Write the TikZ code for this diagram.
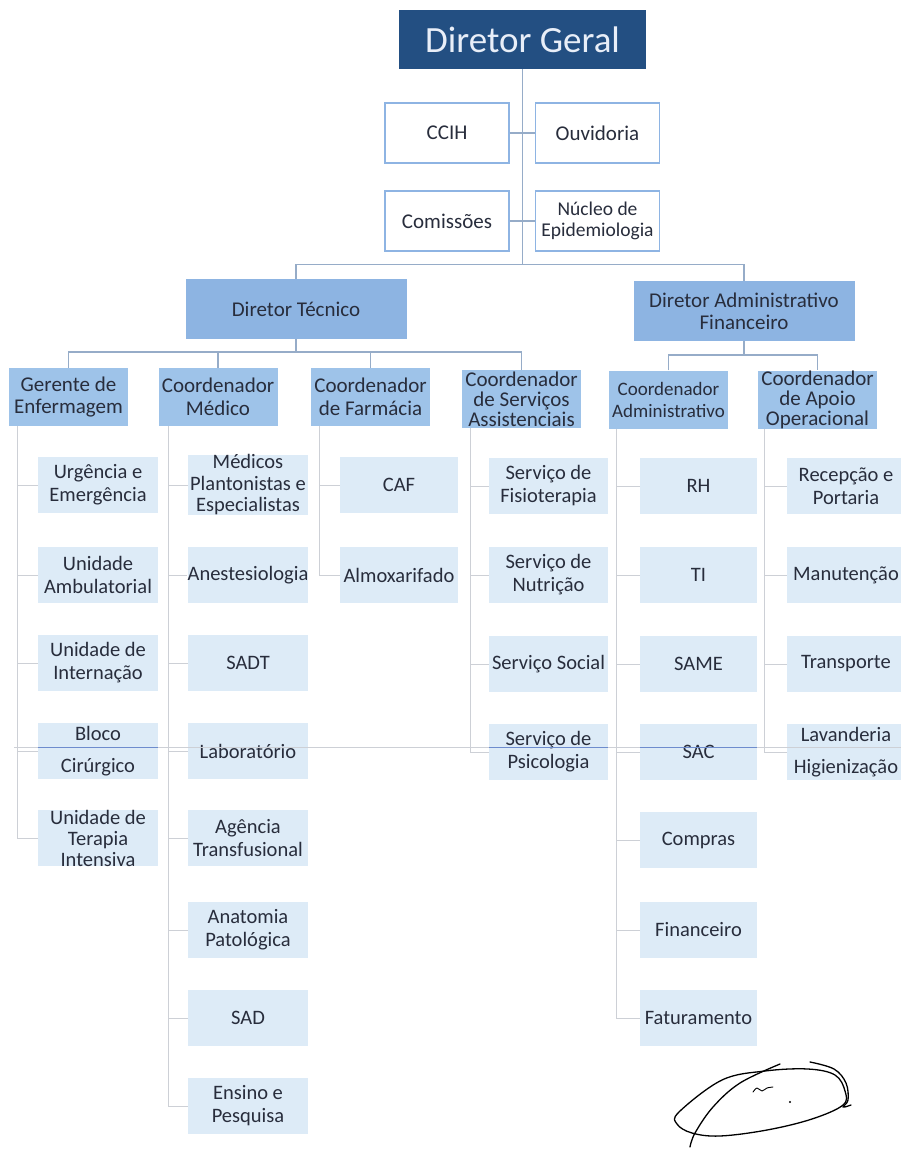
\documentclass[tikz,border=0pt]{standalone}
\usepackage{fontspec}
\setmainfont{Carlito}

\begin{document}
\begin{tikzpicture}[x=1pt, y=-1pt,
  base/.style={inner sep=0pt, align=center, text=txtgray},
  geralbox/.style={base, fill=geralblue, text=geraltext, minimum width=247pt,
    minimum height=59pt, font=\fontsize{37}{40}\selectfont},
  staffbox/.style={base, fill=white, draw=staffborder, line width=1.6pt,
    minimum width=124pt, minimum height=60pt, font=\fontsize{21}{22}\selectfont},
  dirbox/.style={base, fill=dirfill, minimum width=221pt, minimum height=60pt,
    font=\fontsize{21}{22}\selectfont},
  coordbox/.style={base, fill=coordfill, minimum width=119pt, minimum height=58pt,
    font=\fontsize{21}{22.5}\selectfont},
  unitbox/.style={base, fill=unitfill, minimum width=120pt, minimum height=56pt,
    font=\fontsize{20.5}{23}\selectfont},
  topline/.style={draw=toplinecol, line width=1.3pt},
  subline/.style={draw=sublinecol, line width=1pt},
  sign/.style={draw=black, line width=1.3pt, line cap=round, line join=round}]
\definecolor{geralblue}{RGB}{35,79,130}
\definecolor{geraltext}{RGB}{232,238,248}
\definecolor{dirfill}{RGB}{141,180,226}
\definecolor{coordfill}{RGB}{158,195,233}
\definecolor{unitfill}{RGB}{221,235,247}
\definecolor{staffborder}{RGB}{142,180,227}
\definecolor{txtgray}{RGB}{40,45,60}
\definecolor{toplinecol}{RGB}{150,172,200}
\definecolor{sublinecol}{RGB}{205,208,214}
\definecolor{scanblue}{RGB}{110,140,205}

\fill[white] (0,0) rectangle (901,1149);
\useasboundingbox (0,0) rectangle (901,1149);

\node[geralbox] (geral) at (522.5,39.5) {Diretor Geral};
\node[staffbox] (ccih) at (447,133) {CCIH};
\node[staffbox] (ouvid) at (597.5,133) {Ouvidoria};
\node[staffbox] (comis) at (447,221) {Comissões};
\node[staffbox, font=\fontsize{19.5}{21.5}\selectfont] (nucleo) at (597.5,221)
  {Núcleo de\\Epidemiologia};

\node[dirbox] (dirtec) at (296,309) {Diretor Técnico};
\node[dirbox] (diradm) at (744,311) {Diretor Administrativo\\Financeiro};

\node[coordbox] (ger) at (68.5,397) {Gerente de\\Enfermagem};
\node[coordbox] (cmed) at (218,397) {Coordenador\\Médico};
\node[coordbox] (cfar) at (370.5,397) {Coordenador\\de Farmácia};
\node[coordbox, font=\fontsize{21}{20}\selectfont] (cserv) at (521.5,399)
  {Coordenador\\de Serviços\\Assistenciais};
\node[coordbox, font=\fontsize{19}{22}\selectfont] (cadm) at (668.5,399.5)
  {Coordenador\\Administrativo};
\node[coordbox, font=\fontsize{21}{20}\selectfont] (capo) at (817.5,399.5)
  {Coordenador\\de Apoio\\Operacional};

\node[unitbox] (urg) at (98,485) {Urgência e\\Emergência};
\node[unitbox] (amb) at (98,575) {Unidade\\Ambulatorial};
\node[unitbox] (intern) at (98,663) {Unidade de\\Internação};
\node[unitbox, font=\fontsize{20.5}{32}\selectfont] (bloco) at (98,751) {Bloco\\Cirúrgico};
\node[unitbox, font=\fontsize{20.5}{21}\selectfont] (uti) at (98,838)
  {Unidade de\\Terapia\\Intensiva};

\node[unitbox, font=\fontsize{20.5}{21.5}\selectfont] (medp) at (248,485)
  {Médicos\\Plantonistas e\\Especialistas};
\node[unitbox] (anest) at (248,575) {Anestesiologia};
\node[unitbox] (sadt) at (248,663) {SADT};
\node[unitbox] (lab) at (248,751) {Laboratório};
\node[unitbox] (agenc) at (248,838) {Agência\\Transfusional};
\node[unitbox] (anat) at (248,930) {Anatomia\\Patológica};
\node[unitbox] (sad) at (248,1018) {SAD};
\node[unitbox] (ensino) at (248,1106) {Ensino e\\Pesquisa};

\node[unitbox, minimum width=118pt] (caf) at (399,485) {CAF};
\node[unitbox, minimum width=118pt] (almox) at (399,575) {Almoxarifado};

\node[unitbox, minimum width=119pt] (fisio) at (548.5,486) {Serviço de\\Fisioterapia};
\node[unitbox, minimum width=119pt] (nutri) at (548.5,575) {Serviço de\\Nutrição};
\node[unitbox, minimum width=119pt] (social) at (548.5,664) {Serviço Social};
\node[unitbox, minimum width=119pt] (psico) at (548.5,752) {Serviço de\\Psicologia};

\node[unitbox, minimum width=117pt] (rh) at (698.5,486) {RH};
\node[unitbox, minimum width=117pt] (ti) at (698.5,575) {TI};
\node[unitbox, minimum width=117pt] (same) at (698.5,664) {SAME};
\node[unitbox, minimum width=117pt] (sac) at (698.5,752) {SAC};
\node[unitbox, minimum width=117pt] (compras) at (698.5,840) {Compras};
\node[unitbox, minimum width=117pt] (financ) at (698.5,930) {Financeiro};
\node[unitbox, minimum width=117pt] (fatur) at (698.5,1018) {Faturamento};

\node[unitbox, minimum width=118pt] (recep) at (846,486) {Recepção e\\Portaria};
\node[unitbox, minimum width=118pt] (manut) at (846,575) {Manutenção};
\node[unitbox, minimum width=118pt] (transp) at (846,664) {Transporte};
\node[unitbox, minimum width=118pt, font=\fontsize{20.5}{32}\selectfont] (lav)
  at (846,752) {Lavanderia\\Higienização};

\coordinate (bus1) at (522.5,265);
\coordinate (bus2) at (296,352);
\coordinate (bus3) at (744,355);
\draw[topline] (geral.south) -- (bus1);
\draw[topline] (ccih.east) -- (ouvid.west);
\draw[topline] (comis.east) -- (nucleo.west);
\draw[topline] (dirtec.north) -- ++(0,-14) -| (diradm.north);

\draw[topline] (dirtec.south) -- (bus2);
\draw[topline] (ger.north) |- (bus2) -| (cserv.north);
\draw[topline] (cmed.north) -- (cmed.north |- bus2);
\draw[topline] (cfar.north) -- (cfar.north |- bus2);
\draw[topline] (diradm.south) -- (bus3);
\draw[topline] (cadm.north) |- (bus3) -| (capo.north);

\coordinate (gerl) at ([xshift=9pt]ger.south west);
\coordinate (cmedl) at ([xshift=10pt]cmed.south west);
\coordinate (cfarl) at ([xshift=9pt]cfar.south west);
\coordinate (cservl) at ([xshift=9pt]cserv.south west);
\coordinate (cadml) at ([xshift=8pt]cadm.south west);
\coordinate (capol) at ([xshift=7pt]capo.south west);

\draw[subline] (gerl) |- (uti.west);
\draw[subline] (gerl |- urg) -- (urg.west);
\draw[subline] (gerl |- amb) -- (amb.west);
\draw[subline] (gerl |- intern) -- (intern.west);
\draw[subline] (gerl |- bloco) -- (bloco.west);

\draw[subline] (cmedl) |- (ensino.west);
\draw[subline] (cmedl |- medp) -- (medp.west);
\draw[subline] (cmedl |- anest) -- (anest.west);
\draw[subline] (cmedl |- sadt) -- (sadt.west);
\draw[subline] (cmedl |- lab) -- (lab.west);
\draw[subline] (cmedl |- agenc) -- (agenc.west);
\draw[subline] (cmedl |- anat) -- (anat.west);
\draw[subline] (cmedl |- sad) -- (sad.west);

\draw[subline] (cfarl) |- (almox.west);
\draw[subline] (cfarl |- caf) -- (caf.west);

\draw[subline] (cservl) |- (psico.west);
\draw[subline] (cservl |- fisio) -- (fisio.west);
\draw[subline] (cservl |- nutri) -- (nutri.west);
\draw[subline] (cservl |- social) -- (social.west);

\draw[subline] (cadml) |- (fatur.west);
\draw[subline] (cadml |- rh) -- (rh.west);
\draw[subline] (cadml |- ti) -- (ti.west);
\draw[subline] (cadml |- same) -- (same.west);
\draw[subline] (cadml |- sac) -- (sac.west);
\draw[subline] (cadml |- compras) -- (compras.west);
\draw[subline] (cadml |- financ) -- (financ.west);

\draw[subline] (capol) |- (lav.west);
\draw[subline] (capol |- recep) -- (recep.west);
\draw[subline] (capol |- manut) -- (manut.west);
\draw[subline] (capol |- transp) -- (transp.west);

\draw[subline] (14,747) -- (901,747);
\draw[scanblue, line width=1pt] ([yshift=4pt]bloco.west) -- ([yshift=4pt]bloco.east);
\draw[scanblue, line width=1pt] ([yshift=5pt]psico.west) -- ([yshift=5pt]psico.east);
\draw[scanblue, line width=1pt] ([yshift=5pt]sac.west) -- ([yshift=5pt]sac.east);

\draw[sign] plot[smooth cycle, tension=0.6] coordinates {(679,1112) (722,1080)
  (765,1071) (808,1069) (835,1075) (845,1091) (843,1105) (812,1119) (767,1130)
  (720,1136) (692,1133) (677,1124)};
\draw[sign] plot[smooth, tension=0.6] coordinates {(780,1064) (740,1083)
  (713,1107) (695,1133) (690,1147)};
\draw[sign] plot[smooth, tension=0.6] coordinates {(810,1062) (834,1069)
  (846,1083) (848,1100) (843,1107) (851,1105)};
\draw[sign, line width=0.9pt] plot[smooth, tension=0.5] coordinates {(753,1092)
  (757,1088) (762,1091) (767,1088) (773,1087)};
\fill (790,1102) circle (1.2pt);

\end{tikzpicture}
\end{document}
